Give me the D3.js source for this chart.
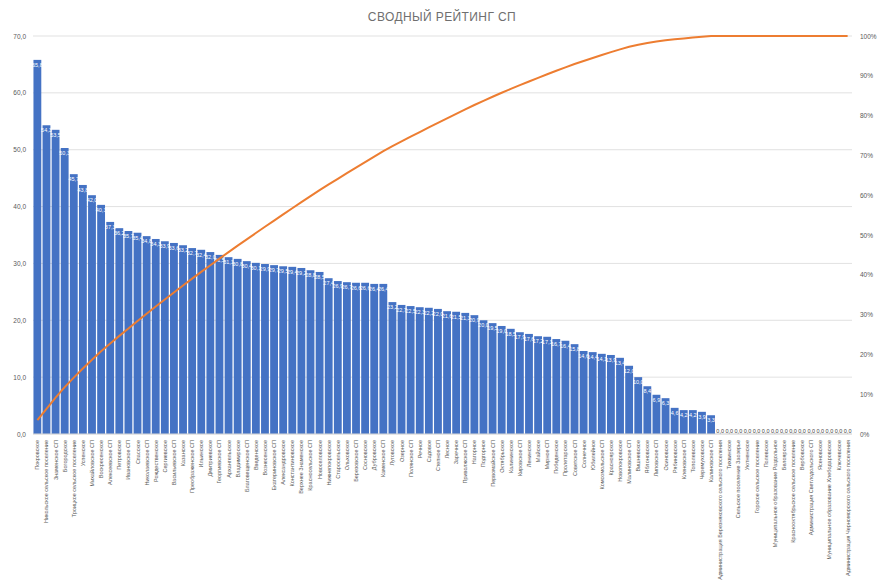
<!DOCTYPE html>
<html><head><meta charset="utf-8">
<script src="https://cdn.jsdelivr.net/npm/d3@7"></script>
<style>body{margin:0;background:#fff;} text{font-family:"Liberation Sans", Arial, sans-serif;}</style>
</head><body><svg id="c" width="880" height="581"></svg>
<script>
const title = "СВОДНЫЙ РЕЙТИНГ СП";
const categoriesMain = ["Покровское","Никольское сельское поселение","Знаменское СП","Богородское","Троицкое сельское поселение","Успенское","Михайловское СП","Воскресенское","Алексеевское СП","Петровское","Ивановское СП","Спасское","Николаевское СП","Рождественское","Сергиевское","Васильевское СП","Казанское","Преображенское СП","Ильинское","Дмитриевское","Георгиевское СП","Архангельское","Владимирское","Благовещенское СП","Введенское","Вознесенское","Екатериновское СП","Александровское","Константиновское","Верхнее Знаменское","Красносельское СП","Новоселовское","Нижнепокровское","Старосельское","Ольховское","Березовское СП","Сосновское","Дубровское","Каменское СП","Луговское","Озерное","Полянское СП","Речное","Садовое","Степное СП","Лесное","Заречное","Приволжское СП","Нагорное","Подгорное","Первомайское СП","Октябрьское","Калининское","Кировское СП","Ленинское","Майское","Мирное СП","Победенское","Пролетарское","Советское СП","Солнечное","Юбилейное","Комсомольское СП","Красноярское","Новопокровское","Малиновское СП","Вишневское","Яблоновское","Липовское СП","Осиновское","Рябиновское","Кленовское СП","Тополевское","Черемуховское","Калиновское СП"];
const categoriesTail = ["Администрация Березняковского сельского поселения","Тихвинское","Сельское поселение Заозерье","Уютненское","Горское сельское поселение","Полевское","Муниципальное образование Раздольное","Белоярское","Краснооктябрьское сельское поселение","Вербовское","Администрация Светлодольского СП","Ясеновское","Муниципальное образование Хлебодаровское","Ключевское","Администрация Черноморского сельского поселения"];
const valuesMain = [65.8,54.3,53.5,50.3,45.7,43.8,42.0,40.3,37.3,36.2,35.7,35.4,34.8,34.3,33.9,33.6,33.2,32.7,32.4,32.0,31.5,31.1,30.8,30.4,30.1,29.9,29.7,29.5,29.4,29.2,28.8,28.5,27.4,26.9,26.7,26.6,26.6,26.4,26.4,23.2,22.7,22.5,22.3,22.2,22.0,21.6,21.5,21.3,20.9,20.0,19.5,19.0,18.5,17.9,17.6,17.2,17.1,16.7,16.4,15.8,14.6,14.4,14.1,13.9,13.4,12.0,10.0,8.4,6.9,6.3,4.6,4.2,4.2,3.9,3.3];
const valuesTail = [0,0,0,0,0,0,0,0,0,0,0,0,0,0,0];
const leftTicks = [0,10,20,30,40,50,60,70];
const rightTicks = [0,0.1,0.2,0.3,0.4,0.5,0.6,0.7,0.8,0.9,1.0];

const categories = categoriesMain.concat(categoriesTail);
const values = valuesMain.concat(valuesTail);
const total = d3.sum(values);
const cumulative = d3.cumsum(values).map(v => v / total);

const svg = d3.select("#c");
const L = 33, R = 852, T = 36, B = 434;
const x = d3.scaleBand().domain(categories).range([L, R]).paddingInner(0.14).paddingOuter(0.05);
const y = d3.scaleLinear().domain([0, 70]).range([B, T]);
const yr = d3.scaleLinear().domain([0, 1]).range([B, T]);
const fmt1 = v => d3.format(".1f")(v).replace(".", ",");

svg.append("text").attr("x", 442).attr("y", 21).attr("text-anchor", "middle")
  .attr("font-size", 12).attr("fill", "#6f6f6f").attr("letter-spacing", 0.4).text(title);

// gridlines
svg.append("g").selectAll("line").data(leftTicks).join("line")
  .attr("x1", L).attr("x2", R).attr("y1", d => y(d)).attr("y2", d => y(d))
  .attr("stroke", "#d9d9d9").attr("stroke-width", 0.8);

// left axis
const ga = svg.append("g").attr("transform", `translate(${L - 4},0)`)
  .call(d3.axisLeft(y).tickValues(leftTicks).tickSize(0).tickFormat(fmt1));
ga.select(".domain").remove();
ga.selectAll("text").attr("font-size", 6.5).attr("fill", "#595959").attr("font-family", "Liberation Sans, Arial, sans-serif");

// right axis
const gr = svg.append("g").attr("transform", `translate(${R + 5},0)`)
  .call(d3.axisRight(yr).tickValues(rightTicks).tickSize(0).tickFormat(d3.format(".0%")));
gr.select(".domain").remove();
gr.selectAll("text").attr("font-size", 6.5).attr("fill", "#595959").attr("font-family", "Liberation Sans, Arial, sans-serif");

// bars
svg.append("g").selectAll("rect").data(categories).join("rect")
  .attr("x", d => x(d)).attr("width", x.bandwidth())
  .attr("y", (d, i) => y(values[i])).attr("height", (d, i) => B - y(values[i]))
  .attr("fill", "#4472C4");

// baseline
svg.append("line").attr("x1", L).attr("x2", R).attr("y1", B).attr("y2", B)
  .attr("stroke", "#d9d9d9").attr("stroke-width", 1);

// value labels
svg.append("g").selectAll("text").data(categories).join("text")
  .attr("x", d => x(d) + x.bandwidth() / 2)
  .attr("y", (d, i) => values[i] > 0 ? y(values[i]) + 7 : B - 1.5)
  .attr("text-anchor", "middle").attr("font-size", 5.5)
  .attr("fill", (d, i) => values[i] > 0 ? "#ffffff" : "#404040")
  .text((d, i) => fmt1(values[i]));

// pareto line
const line = d3.line().x((d, i) => x(categories[i]) + x.bandwidth() / 2).y(d => yr(d));
svg.append("path").datum(cumulative).attr("d", line)
  .attr("fill", "none").attr("stroke", "#ED7D31").attr("stroke-width", 2);

// category labels
svg.append("g").selectAll("text").data(categories).join("text")
  .attr("transform", d => `translate(${x(d) + x.bandwidth() / 2 + 2},${B + 6}) rotate(-90)`)
  .attr("text-anchor", "end").attr("font-size", 5.5).attr("fill", "#595959")
  .text(d => d);
</script></body></html>
